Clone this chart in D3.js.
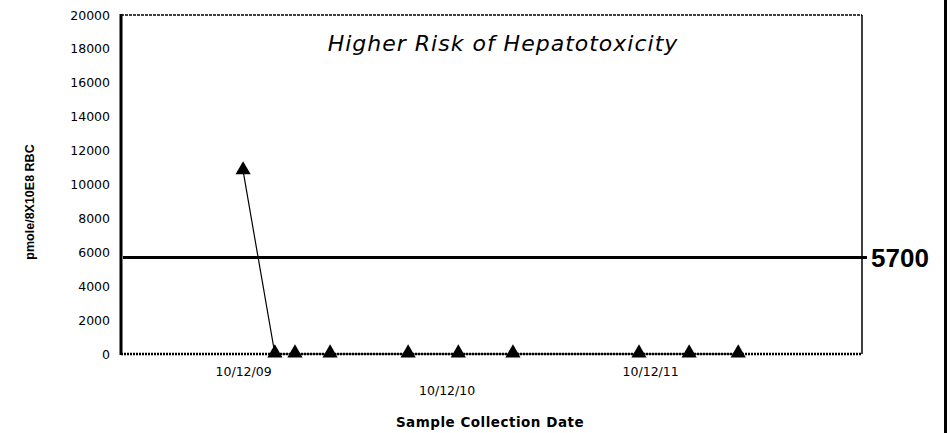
<!DOCTYPE html>
<html>
<head>
<meta charset="utf-8">
<script src="https://cdn.jsdelivr.net/npm/d3@7"></script>
<style>
  body { margin: 0; background: #fff; }
  text { font-family: "DejaVu Sans", "Liberation Sans", sans-serif; fill: #000; }
</style>
</head>
<body>
<script>
// sample dates and values
var sampleDates = ["2009-10-12", "2009-12-08", "2010-01-13", "2010-03-17", "2010-08-04",
                   "2010-11-02", "2011-02-08", "2011-09-22", "2011-12-21", "2012-03-18"];
var sampleValues = [10800, 0, 0, 0, 0, 0, 0, 0, 0, 0];

var yTicks = [0, 2000, 4000, 6000, 8000, 10000, 12000, 14000, 16000, 18000, 20000];
var xTickDates = ["2009-10-12", "2010-10-12", "2011-10-12"];
var xTickLabels = ["10/12/09", "10/12/10", "10/12/11"];
var threshold = 5700;

var parse = d3.timeParse("%Y-%m-%d");
var data = sampleDates.map(function(d, i) { return {date: parse(d), value: sampleValues[i]}; });

var W = 950, H = 433;
var margin = {top: 15, right: 88, bottom: 79, left: 121};

var svg = d3.select("body").append("svg")
    .attr("width", W)
    .attr("height", H);

var x = d3.scaleTime()
    .domain([parse("2009-03-07"), parse("2012-10-26")])
    .range([margin.left, W - margin.right]);
var y = d3.scaleLinear()
    .domain([0, 20000])
    .range([H - margin.bottom, margin.top]);

// y axis labels (no tick marks)
var yAxis = d3.axisLeft(y).tickValues(yTicks).tickSize(0).tickPadding(11)
    .tickFormat(d3.format("d"));
svg.append("g")
    .attr("transform", "translate(" + margin.left + ",0)")
    .call(yAxis)
    .call(function(g) { g.select(".domain").remove(); })
    .selectAll("text")
    .style("font-family", "'DejaVu Sans', sans-serif")
    .style("font-size", "12.5px");

// x axis labels, middle one dropped lower
var xAxis = d3.axisBottom(x)
    .tickValues(xTickDates.map(parse))
    .tickSize(0)
    .tickFormat(function(d, i) { return xTickLabels[i]; });
svg.append("g")
    .attr("transform", "translate(0," + y(0) + ")")
    .call(xAxis)
    .call(function(g) { g.select(".domain").remove(); })
    .selectAll("text")
    .attr("y", function(d, i) { return i == 1 ? 32 : 13; })
    .style("font-family", "'DejaVu Sans', sans-serif")
    .style("font-size", "12.5px");

// frame
svg.append("line")
    .attr("x1", margin.left).attr("x2", W - margin.right)
    .attr("y1", y(20000)).attr("y2", y(20000))
    .attr("stroke", "#000").attr("stroke-width", 1.5)
    .attr("stroke-dasharray", "3,1");
svg.append("line")
    .attr("x1", W - margin.right).attr("x2", W - margin.right)
    .attr("y1", y(20000)).attr("y2", y(0))
    .attr("stroke", "#000").attr("stroke-width", 1.5);
svg.append("line")
    .attr("x1", margin.left).attr("x2", W - margin.right)
    .attr("y1", y(0)).attr("y2", y(0))
    .attr("stroke", "#000").attr("stroke-width", 2.5)
    .attr("stroke-dasharray", "2,1");
svg.append("line")
    .attr("x1", margin.left).attr("x2", margin.left)
    .attr("y1", y(20000) - 1).attr("y2", y(0) + 1)
    .attr("stroke", "#000").attr("stroke-width", 3);

// outer right border
svg.append("line")
    .attr("x1", 945.5).attr("x2", 945.5)
    .attr("y1", 0).attr("y2", H)
    .attr("stroke", "#000").attr("stroke-width", 3);

// threshold line
svg.append("line")
    .attr("x1", margin.left + 2).attr("x2", W - margin.right + 5)
    .attr("y1", y(threshold)).attr("y2", y(threshold))
    .attr("stroke", "#000").attr("stroke-width", 3);
svg.append("text")
    .attr("x", W - margin.right + 9)
    .attr("y", y(threshold) + 10)
    .style("font-family", "'Liberation Sans', Arial, sans-serif")
    .style("font-size", "26px")
    .style("font-weight", "bold")
    .text(threshold);

// data line and markers
var line = d3.line()
    .x(function(d) { return x(d.date); })
    .y(function(d) { return y(d.value); });
svg.append("path")
    .datum(data)
    .attr("d", line)
    .attr("fill", "none")
    .attr("stroke", "#000")
    .attr("stroke-width", 1.2);

svg.selectAll(".pt")
    .data(data)
    .enter()
    .append("path")
    .attr("class", "pt")
    .attr("d", d3.symbol().type(d3.symbolTriangle).size(100))
    .attr("transform", function(d) { return "translate(" + x(d.date) + "," + (y(d.value) - 1) + ")"; })
    .attr("fill", "#000");

// titles
svg.append("text")
    .attr("x", 503)
    .attr("y", 51)
    .attr("text-anchor", "middle")
    .style("font-size", "22px")
    .style("font-style", "italic")
    .style("letter-spacing", "1px")
    .text("Higher Risk of Hepatotoxicity");

svg.append("text")
    .attr("x", 490)
    .attr("y", 427)
    .attr("text-anchor", "middle")
    .style("font-size", "13.5px")
    .style("font-weight", "bold")
    .style("letter-spacing", "0.5px")
    .text("Sample Collection Date");

svg.append("text")
    .attr("transform", "translate(34,202)rotate(-90)")
    .attr("text-anchor", "middle")
    .style("font-family", "'Liberation Sans', Arial, sans-serif")
    .style("font-size", "12.5px")
    .style("font-weight", "bold")
    .text("pmole/8X10E8 RBC");
</script>
</body>
</html>
